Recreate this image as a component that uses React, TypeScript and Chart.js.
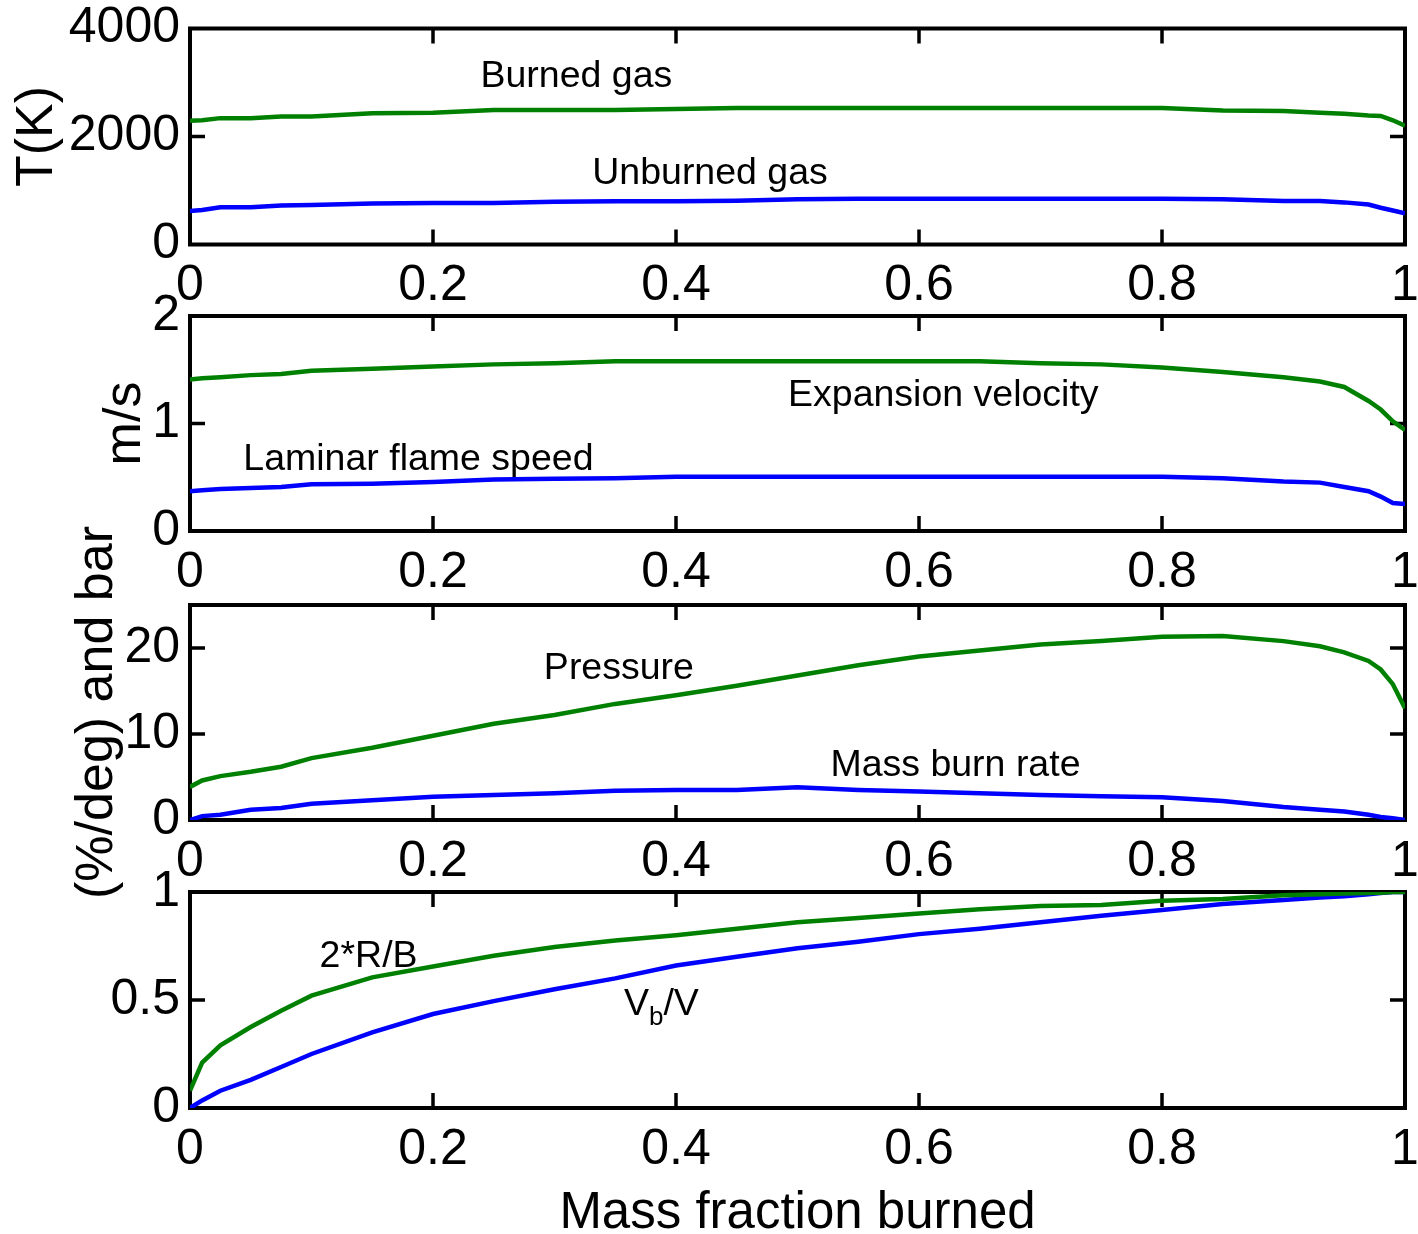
import React, { useEffect, useRef } from 'react';
import { Chart, registerables } from 'chart.js';

Chart.register(...registerables);

// ---------------- data ----------------
const massFraction = [0, 0.01, 0.025, 0.05, 0.075, 0.1, 0.15, 0.2, 0.25, 0.3, 0.35, 0.4, 0.45, 0.5, 0.55, 0.6, 0.65, 0.7, 0.75, 0.8, 0.85, 0.9, 0.93, 0.95, 0.97, 0.98, 0.99, 1.0];

const burnedGasT = [2290, 2300, 2340, 2340, 2370, 2370, 2430, 2440, 2490, 2490, 2490, 2510, 2527, 2527, 2527, 2527, 2527, 2527, 2527, 2527, 2480, 2470, 2440, 2420, 2390, 2380, 2300, 2200];
const unburnedGasT = [620, 640, 690, 690, 720, 730, 760, 770, 770, 790, 800, 800, 810, 840, 845, 845, 845, 845, 845, 845, 840, 805, 805, 780, 740, 680, 630, 580];

const expansionVelocity = [1.41, 1.42, 1.43, 1.45, 1.46, 1.49, 1.51, 1.53, 1.55, 1.56, 1.58, 1.58, 1.58, 1.58, 1.58, 1.58, 1.58, 1.56, 1.55, 1.52, 1.48, 1.43, 1.39, 1.34, 1.21, 1.13, 1.02, 0.94];
const laminarFlameSpeed = [0.37, 0.38, 0.39, 0.4, 0.41, 0.435, 0.44, 0.455, 0.48, 0.485, 0.49, 0.505, 0.505, 0.505, 0.505, 0.505, 0.505, 0.505, 0.505, 0.505, 0.49, 0.46, 0.45, 0.41, 0.37, 0.32, 0.26, 0.25];

const pressure = [3.85, 4.6, 5.1, 5.6, 6.2, 7.2, 8.4, 9.8, 11.2, 12.2, 13.5, 14.5, 15.6, 16.8, 18.0, 19.0, 19.7, 20.4, 20.8, 21.3, 21.4, 20.8, 20.2, 19.5, 18.5, 17.5, 15.8, 13.0];
const massBurnRate = [0, 0.45, 0.6, 1.2, 1.4, 1.9, 2.3, 2.7, 2.9, 3.1, 3.4, 3.5, 3.5, 3.8, 3.5, 3.3, 3.1, 2.9, 2.75, 2.65, 2.2, 1.5, 1.2, 1.0, 0.6, 0.35, 0.2, 0];

const radiusRatio = [0.08, 0.21, 0.29, 0.375, 0.45, 0.52, 0.605, 0.655, 0.705, 0.745, 0.775, 0.8, 0.83, 0.86, 0.88, 0.9, 0.92, 0.935, 0.94, 0.96, 0.968, 0.985, 0.99, 0.993, 0.995, 0.997, 1.0, 1.0];
const volumeRatio = [0, 0.035, 0.08, 0.13, 0.19, 0.25, 0.35, 0.435, 0.495, 0.55, 0.6, 0.66, 0.7, 0.74, 0.77, 0.805, 0.83, 0.86, 0.89, 0.917, 0.944, 0.963, 0.975, 0.98, 0.99, 0.995, 1.0, 1.0];

const xTicks = [0, 0.2, 0.4, 0.6, 0.8, 1];
const tempTicks = [0, 2000, 4000];
const speedTicks = [0, 1, 2];
const pressureTicks = [0, 10, 20];
const ratioTicks = [0, 0.5, 1];

// ---------------- styling / layout ----------------
const W = 1418;
const H = 1234;
const PLOT_LEFT = 190;
const PLOT_RIGHT = 1405;
const GREEN = 'rgb(0,128,0)';
const BLUE = 'rgb(0,0,255)';
const FONT = "'Liberation Sans', Arial, Helvetica, sans-serif";
const TICK_SIZE = 50;
const NOTE_SIZE = 37.5;

type Part = { t: string; sub?: boolean };
type Ann = { parts: Part[]; x: number; y: number };
type Panel = {
  top: number;
  bottom: number;
  yMin: number;
  yMax: number;
  yTicks: number[];
  yTitle?: string;
  yTitlePad?: number;
  xTitle?: string;
  series: { values: number[]; color: string }[];
  notes: Ann[];
};

const panels: Panel[] = [
  {
    top: 28.5, bottom: 244.5, yMin: 0, yMax: 4000, yTicks: tempTicks,
    yTitle: 'T(K)', yTitlePad: 6,
    series: [{ values: burnedGasT, color: GREEN }, { values: unburnedGasT, color: BLUE }],
    notes: [
      { parts: [{ t: 'Burned gas' }], x: 0.318, y: 3100 },
      { parts: [{ t: 'Unburned gas' }], x: 0.428, y: 1320 },
    ],
  },
  {
    top: 316, bottom: 531, yMin: 0, yMax: 2, yTicks: speedTicks,
    yTitle: 'm/s', yTitlePad: 94,
    series: [{ values: expansionVelocity, color: GREEN }, { values: laminarFlameSpeed, color: BLUE }],
    notes: [
      { parts: [{ t: 'Expansion velocity' }], x: 0.62, y: 1.26 },
      { parts: [{ t: 'Laminar flame speed' }], x: 0.188, y: 0.665 },
    ],
  },
  {
    top: 605, bottom: 820, yMin: 0, yMax: 25, yTicks: pressureTicks,
    yTitle: '(%/deg) and bar', yTitlePad: 66,
    series: [{ values: pressure, color: GREEN }, { values: massBurnRate, color: BLUE }],
    notes: [
      { parts: [{ t: 'Pressure' }], x: 0.353, y: 17.6 },
      { parts: [{ t: 'Mass burn rate' }], x: 0.63, y: 6.3 },
    ],
  },
  {
    top: 892, bottom: 1108, yMin: 0, yMax: 1, yTicks: ratioTicks,
    xTitle: 'Mass fraction burned',
    series: [{ values: radiusRatio, color: GREEN }, { values: volumeRatio, color: BLUE }],
    notes: [
      { parts: [{ t: '2*R/B' }], x: 0.147, y: 0.7 },
      { parts: [{ t: 'V' }, { t: 'b', sub: true }, { t: '/V' }], x: 0.388, y: 0.48 },
    ],
  },
];

function makeDecor(notes: Ann[]) {
  return {
    id: 'decor',
    beforeDatasetsDraw(chart: any) {
      const { ctx, chartArea: a, scales } = chart;
      const xs = scales.x;
      const ys = scales.y;
      ctx.save();
      ctx.strokeStyle = '#000';
      ctx.lineCap = 'butt';
      ctx.lineWidth = 3.5;
      const TL = 15;
      ctx.beginPath();
      xs.ticks.forEach((t: any) => {
        if (t.value <= xs.min || t.value >= xs.max) return;
        const px = xs.getPixelForValue(t.value);
        ctx.moveTo(px, a.bottom);
        ctx.lineTo(px, a.bottom - TL);
        ctx.moveTo(px, a.top);
        ctx.lineTo(px, a.top + TL);
      });
      ys.ticks.forEach((t: any) => {
        if (t.value <= ys.min || t.value >= ys.max) return;
        const py = ys.getPixelForValue(t.value);
        ctx.moveTo(a.left, py);
        ctx.lineTo(a.left + TL, py);
        ctx.moveTo(a.right, py);
        ctx.lineTo(a.right - TL, py);
      });
      ctx.stroke();
      ctx.lineWidth = 4;
      ctx.lineJoin = 'miter';
      ctx.strokeRect(a.left, a.top, a.right - a.left, a.bottom - a.top);

      // annotations
      ctx.fillStyle = '#000';
      ctx.textBaseline = 'middle';
      ctx.textAlign = 'left';
      const mainFont = `${NOTE_SIZE}px ${FONT}`;
      const subFont = `26px ${FONT}`;
      notes.forEach((n) => {
        let total = 0;
        n.parts.forEach((p) => {
          ctx.font = p.sub ? subFont : mainFont;
          total += ctx.measureText(p.t).width;
        });
        let cx = xs.getPixelForValue(n.x) - total / 2;
        const cy = ys.getPixelForValue(n.y);
        n.parts.forEach((p) => {
          ctx.font = p.sub ? subFont : mainFont;
          ctx.fillText(p.t, cx, p.sub ? cy + 14 : cy);
          cx += ctx.measureText(p.t).width;
        });
      });
      ctx.restore();
    },
  };
}

function makeConfig(p: Panel): any {
  return {
    type: 'line',
    data: {
      datasets: p.series.map((s) => ({
        data: massFraction.map((x, i) => ({ x, y: s.values[i] })),
        borderColor: s.color,
        backgroundColor: s.color,
        borderWidth: 4.5,
        pointRadius: 0,
        tension: 0,
        fill: false,
      })),
    },
    options: {
      responsive: false,
      animation: false,
      events: [],
      layout: { padding: { top: p.top, left: 0, right: W - PLOT_RIGHT, bottom: 0 } },
      plugins: { legend: { display: false }, tooltip: { enabled: false } },
      scales: {
        x: {
          type: 'linear',
          min: 0,
          max: 1,
          afterBuildTicks: (s: any) => { s.ticks = xTicks.map((v) => ({ value: v })); },
          afterFit: (s: any) => {
            s.height = H - p.bottom;
            s.paddingLeft = 0; s.paddingRight = 0; s.paddingTop = 0; s.paddingBottom = 0;
          },
          grid: { display: false, drawTicks: false },
          border: { display: false },
          ticks: {
            color: '#000',
            font: { family: FONT, size: TICK_SIZE },
            padding: 12,
            maxRotation: 0,
            autoSkip: false,
            callback: (v: any) => String(v),
          },
          title: {
            display: !!p.xTitle,
            text: p.xTitle || '',
            color: '#000',
            font: { family: FONT, size: 51, lineHeight: 0.8 },
            padding: { top: 0, bottom: 0 },
          },
        },
        y: {
          type: 'linear',
          min: p.yMin,
          max: p.yMax,
          afterBuildTicks: (s: any) => { s.ticks = p.yTicks.map((v) => ({ value: v })); },
          afterFit: (s: any) => {
            s.width = PLOT_LEFT;
            s.paddingLeft = 0; s.paddingRight = 0; s.paddingTop = 0; s.paddingBottom = 0;
          },
          grid: { display: false, drawTicks: false },
          border: { display: false },
          ticks: {
            color: '#000',
            font: { family: FONT, size: TICK_SIZE },
            padding: 10,
            autoSkip: false,
            callback: (v: any) => String(v),
          },
          title: {
            display: !!p.yTitle,
            text: p.yTitle || '',
            color: '#000',
            font: { family: FONT, size: 52 },
            padding: { top: p.yTitlePad || 0, bottom: 0 },
          },
        },
      },
    },
    plugins: [makeDecor(p.notes)],
  };
}

export default function App() {
  const refs = useRef<(HTMLCanvasElement | null)[]>([]);
  useEffect(() => {
    const charts = panels.map((p, i) => new Chart(refs.current[i] as HTMLCanvasElement, makeConfig(p)));
    return () => charts.forEach((c) => c.destroy());
  }, []);
  return (
    <div style={{ position: 'absolute', left: 0, top: 0, width: W, height: H, background: '#fff' }}>
      {panels.map((_, i) => (
        <canvas
          key={i}
          ref={(el) => { refs.current[i] = el; }}
          width={W}
          height={H}
          style={{ position: 'absolute', left: 0, top: 0, width: W, height: H }}
        />
      ))}
    </div>
  );
}
